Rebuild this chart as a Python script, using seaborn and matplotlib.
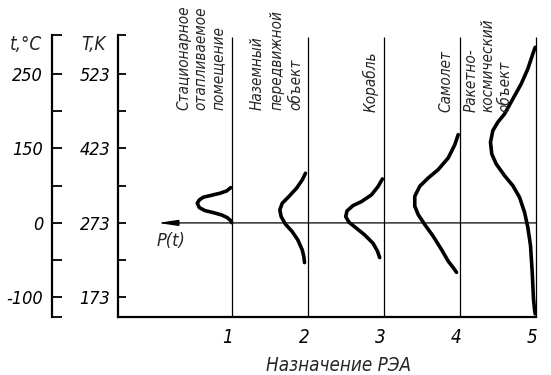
import matplotlib
matplotlib.use("Agg")
import matplotlib.pyplot as plt
import seaborn as sns
import pandas as pd
from matplotlib import font_manager as fm
from matplotlib.font_manager import FontProperties
from matplotlib.transforms import ScaledTranslation

# ---------------- data ----------------
categories = ["1", "2", "3", "4", "5"]
cat_pos = [1, 2, 3, 4, 5]
purpose_labels = [
    ["Стационарное", "отапливаемое", "помещение"],
    ["Наземный", "передвижной", "объект"],
    ["Корабль"],
    ["Самолет"],
    ["Ракетно-", "космический", "объект"],
]
celsius_labels = ["", "-100", "", "0", "", "150", "", "250", ""]
kelvin_labels = ["", "173", "", "273", "", "423", "", "523", ""]
scale_ticks = [-2.51, -2, -1, 0, 1, 2, 3, 4, 5.04]

# P(t) curves: p = density (drawn leftwards from the category line), y = temperature level
c1_p = [0.017, 0.070, 0.158, 0.289, 0.378, 0.430, 0.457, 0.430, 0.355, 0.246, 0.137, 0.062, 0.017, 0.004]
c1_y = [0.946, 0.858, 0.796, 0.732, 0.689, 0.617, 0.528, 0.410, 0.330, 0.276, 0.214, 0.142, 0.062, 0.008]
c2_p = [0.033, 0.076, 0.151, 0.253, 0.339, 0.371, 0.353, 0.296, 0.208, 0.134, 0.076, 0.055, 0.046]
c2_y = [1.332, 1.153, 0.930, 0.705, 0.528, 0.349, 0.169, -0.035, -0.233, -0.456, -0.724, -0.903, -1.064]
c3_p = [0.021, 0.079, 0.166, 0.297, 0.408, 0.487, 0.504, 0.461, 0.363, 0.254, 0.145, 0.087, 0.057]
c3_y = [1.180, 0.973, 0.751, 0.571, 0.464, 0.322, 0.169, 0.019, -0.142, -0.322, -0.544, -0.751, -0.930]
c4_p = [0.024, 0.068, 0.155, 0.287, 0.418, 0.529, 0.595, 0.595, 0.550, 0.463, 0.353, 0.243, 0.155, 0.085, 0.046]
c4_y = [2.367, 2.099, 1.743, 1.429, 1.206, 0.984, 0.716, 0.448, 0.223, -0.046, -0.357, -0.716, -1.027, -1.210, -1.327]
c5_p = [0.011, 0.042, 0.108, 0.195, 0.305, 0.414, 0.503, 0.568, 0.599, 0.582, 0.524, 0.414, 0.305,
        0.217, 0.151, 0.108, 0.072, 0.050, 0.033, 0.020, 0.011]
c5_y = [4.710, 4.531, 4.129, 3.727, 3.324, 2.922, 2.700, 2.475, 2.164, 1.850, 1.582, 1.268, 1.000,
        0.689, 0.287, -0.115, -0.609, -1.322, -2.038, -2.306, -2.440]
curves_p = [c1_p, c2_p, c3_p, c4_p, c5_p]
curves_y = [c1_y, c2_y, c3_y, c4_y, c5_y]

# ---------------- fonts ----------------
def pick_font():
    prefs = ["LiberationSansNarrow-Italic", "DejaVuSansCondensed-Oblique"]
    for key in prefs:
        for f in fm.fontManager.ttflist:
            if key.lower() in f.fname.lower().replace(" ", ""):
                return FontProperties(fname=f.fname)
    for f in fm.fontManager.ttflist:
        n = f.fname.lower()
        if ("condensed" in n or "narrow" in n) and ("italic" in n or "oblique" in n):
            return FontProperties(fname=f.fname)
    return FontProperties(family="DejaVu Sans", style="oblique")

base_fp = pick_font()

def fp(size):
    p = base_fp.copy()
    p.set_size(size)
    return p

sns.set_theme(style="white")
plt.rcParams["font.family"] = ["DejaVu Sans"]

W, H = 551, 375
fig = plt.figure(figsize=(W / 100, H / 100), dpi=100)
fig.patch.set_facecolor("white")

def fx(px):
    return px / W

def fy(py):
    return 1 - py / H

ax_left, ax_right, ax_top, ax_bot = 118, 536, 35, 316.5
ax = fig.add_axes([fx(ax_left), fy(ax_bot), (ax_right - ax_left) / W, (ax_bot - ax_top) / H])
ax.set_facecolor("none")

# probability curves
for pos, pp, yy in zip(cat_pos, curves_p, curves_y):
    df = pd.DataFrame({"x": [pos - v for v in pp], "y": yy})
    sns.lineplot(data=df, x="x", y="y", sort=False, estimator=None, ax=ax,
                 color="black", lw=2.6, solid_capstyle="round", solid_joinstyle="round")

ax.set_xlim(-0.5, 5)
ax.set_ylim(-2.51, 5.04)
ax.grid(False)
for s in ["top", "right"]:
    ax.spines[s].set_visible(False)
for s in ["left", "bottom"]:
    ax.spines[s].set_color("black")
    ax.spines[s].set_linewidth(1.6)

# Kelvin scale on main left spine
ax.set_yticks(scale_ticks)
ax.set_yticklabels(kelvin_labels, fontproperties=fp(13))
ax.tick_params(axis="y", direction="in", length=6, width=1.3, pad=5.5, colors="black")
ax.set_ylabel("")

# category labels on baseline
ax.set_xticks(cat_pos)
ax.set_xticklabels(categories, fontproperties=fp(13.5))
ax.tick_params(axis="x", length=0, pad=8, colors="black")
for lbl in ax.get_xticklabels():
    lbl.set_transform(lbl.get_transform() + ScaledTranslation(-4 / 100, 0, fig.dpi_scale_trans))
ax.set_xlabel("Назначение РЭА", fontproperties=fp(13.5))
ax.xaxis.set_label_coords((339 - ax_left) / (ax_right - ax_left), (ax_bot - 356) / (ax_bot - ax_top))

# Celsius scale: parasite axis with its own left spine
ax2 = ax.twinx()
ax2.set_ylim(ax.get_ylim())
ax2.yaxis.set_ticks_position("left")
ax2.yaxis.set_label_position("left")
ax2.spines["left"].set_position(("axes", (52 - ax_left) / (ax_right - ax_left)))
for s in ["top", "right", "bottom"]:
    ax2.spines[s].set_visible(False)
ax2.spines["left"].set_visible(True)
ax2.spines["left"].set_color("black")
ax2.spines["left"].set_linewidth(1.6)
ax2.set_yticks(scale_ticks)
ax2.set_yticklabels(celsius_labels, fontproperties=fp(13))
ax2.tick_params(axis="y", direction="in", length=7, width=1.3, pad=6.5, colors="black")
ax2.grid(False)

# category vertical lines
ax.vlines(cat_pos, -2.51, 4.98, colors="black", lw=0.9, clip_on=False)

# zero-level arrow (P(t) axis)
ax.annotate("", xy=(0.026, 0), xytext=(5, 0),
            arrowprops=dict(arrowstyle="-|>,head_length=1.0,head_width=0.15",
                            color="black", lw=0.9, shrinkA=0, shrinkB=0),
            annotation_clip=False)
fig.text(fx(171), fy(241), "P(t)", fontproperties=fp(13), ha="center", va="center")

# headers of the two scales
fig.text(fx(26), fy(45), "t,°C", fontproperties=fp(13.5), ha="center", va="center")
fig.text(fx(93), fy(45), "T,K", fontproperties=fp(13.5), ha="center", va="center")

# rotated purpose labels
label_x = [[184, 201, 218], [257, 277, 296], [371], [446], [471, 488, 505]]
label_bottom = [110, 110, 112, 112, 112]
for xs, lines, yb in zip(label_x, purpose_labels, label_bottom):
    for x, t in zip(xs, lines):
        fig.text(fx(x), fy(yb), t, rotation=90, ha="center", va="bottom",
                 fontproperties=fp(11))

fig.savefig("out.png", dpi=100, facecolor="white")
